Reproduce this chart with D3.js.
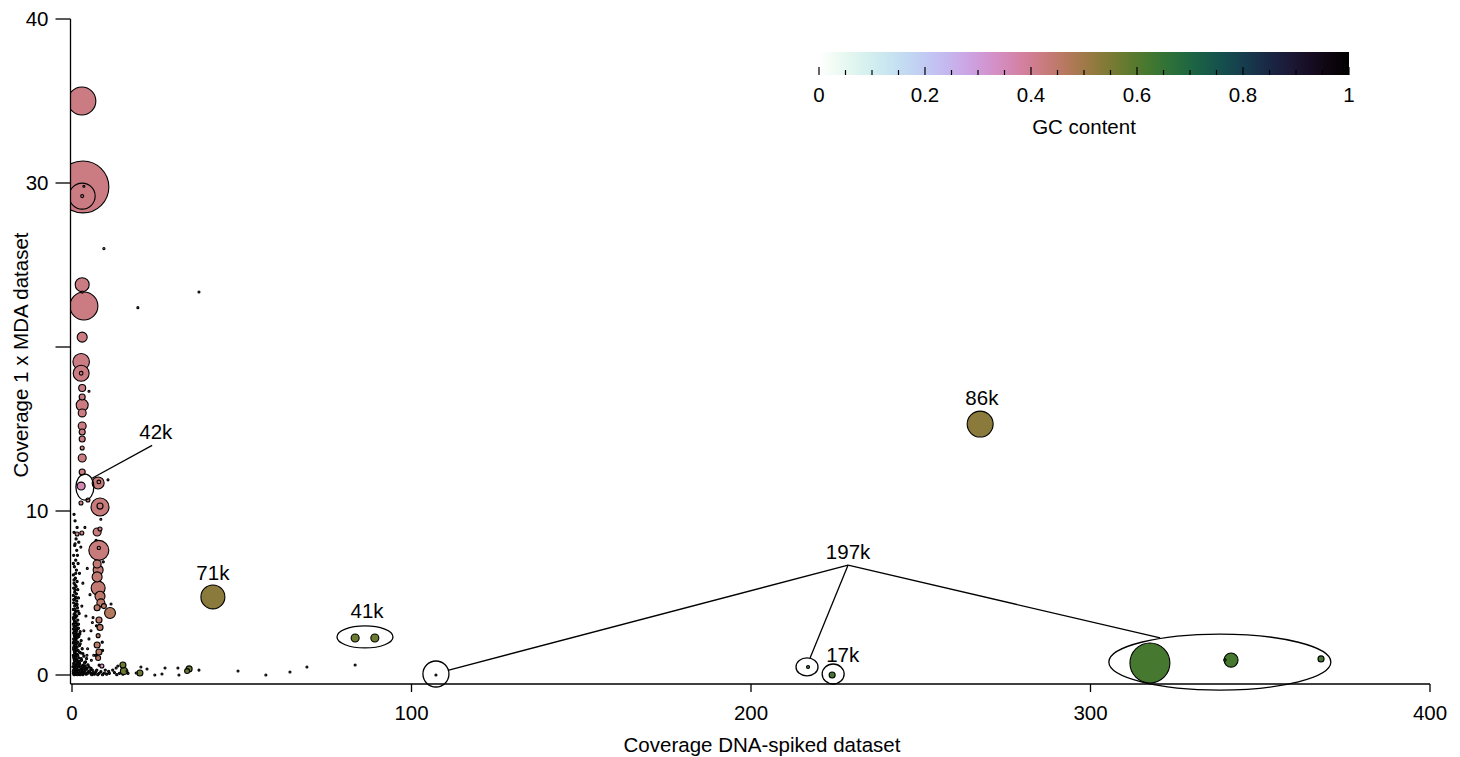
<!DOCTYPE html>
<html><head><meta charset="utf-8">
<script src="https://cdn.jsdelivr.net/npm/d3@7"></script>
<style>body{margin:0;background:#fff}svg text{font-family:"Liberation Sans",Arial,sans-serif;fill:#000}</style>
</head><body><svg id="c" width="1460" height="757"></svg>
<script>
// contigs: [coverage DNA-spiked, coverage MDA, GC content, length (kb)]
const contigs = [
 [2.9,35.0,.42,86],[3.2,29.76,.42,296],[3.0,29.2,.42,74],[3.0,29.2,.42,1],[3.5,29.8,.42,0.3],
 [9.4,26.0,.42,0.5],[19.4,22.4,.42,0.2],[37.4,23.35,.42,0.2],
 [3.0,23.8,.42,21.5],[3.0,23.35,.42,0.5],[3.5,22.5,.42,86],[3.0,20.6,.42,11],
 [2.7,19.1,.42,30],[2.7,18.4,.42,28],[2.7,18.4,.42,1.5],[3.0,17.5,.42,5.4],[5.0,17.3,.42,0.3],
 [3.0,16.95,.42,4],[3.0,16.46,.42,15.8],[3.0,15.98,.42,7],[3.0,15.18,.42,7],[3.0,14.82,.42,4],
 [3.0,14.39,.42,4],[3.0,13.84,.42,1.75],[3.0,13.23,.42,7],[3.0,12.38,.42,4],[2.7,11.52,.36,7],
 [7.7,11.71,.43,15.8],[7.9,11.77,.43,1.5],[10.6,11.9,.42,0.3],[2.65,10.49,.42,1.75],[4.7,10.67,.42,1.75],
 [8.25,10.24,.43,35.5],[8.25,10.3,.43,4],[8.5,9.5,.42,0.3],[7.4,8.72,.43,7],[8.25,8.9,.43,1.75],
 [1.5,8.6,.42,1.75],[2.9,8.66,.42,1.75],[7.9,7.6,.43,44],[7.9,7.75,.43,1.2],[7.4,6.77,.44,7],
 [7.7,6.4,.44,11],[7.4,5.98,.44,11],[7.7,5.3,.44,21.5],[8.25,4.8,.45,11],[8.5,4.4,.45,7],
 [7.4,4.1,.45,4],[11.2,3.78,.47,13],[9.4,4.2,.46,2.7],[7.95,3.35,.45,4],[8.25,2.9,.46,4],
 [7.7,2.4,.46,1.75],[7.4,1.83,.46,4],[7.95,1.4,.46,4],[7.7,1.04,.46,2.7],[8.8,0.55,.35,1.75],
 // green low-coverage contigs
 [15.0,0.61,.57,4],[15.3,0.24,.57,5.4],[20.0,0.12,.57,4],[33.9,0.24,.57,2.7],[34.5,0.37,.57,4],
 [83.4,2.26,.57,7],[89.2,2.26,.57,7],[41.5,4.76,.53,63],[267.5,15.3,.53,74],
 [317.5,0.73,.62,175],[341.4,0.91,.62,21.5],[339.6,0.91,.62,0.6],[367.9,0.98,.62,4],
 [216.8,0.49,.62,1],[223.9,0.0,.62,4],[107.2,0.0,.5,0.3],
 // scattered small contigs
 [11.5,4.33,.4,0.3],[13.0,0.43,.4,0.3],[13.5,0.55,.4,0.3],[16.2,0.24,.4,0.3],[18.9,0.12,.4,0.3],
 [20.3,0.49,.4,0.3],[22.1,0.37,.4,0.3],[24.4,0.0,.4,0.3],[26.5,0.06,.4,0.3],[27.4,0.43,.4,0.3],
 [31.2,0.43,.4,0.3],[31.5,0.0,.4,0.3],[37.4,0.3,.4,0.3],[48.9,0.24,.4,0.3],[57.1,0.0,.4,0.3],
 [64.2,0.18,.4,0.3],[69.2,0.49,.4,0.3],[83.4,0.61,.4,0.3],
 [3.8,9.0,.4,0.3],[2.6,7.8,.4,0.3],[4.5,6.5,.4,0.3],[3.2,5.6,.4,0.3],[5.3,4.9,.4,0.3],[2.9,4.2,.4,0.3],
 [4.1,3.6,.4,0.3],[6.0,3.2,.4,0.3],[3.5,2.7,.4,0.3],[5.0,2.2,.4,0.3],[4.6,1.6,.4,0.3],[6.4,1.2,.4,0.3],
 [5.7,0.9,.4,0.3],[6.2,3.5,.4,0.3],[5.6,2.7,.4,0.3],[4.4,1.2,.4,0.3]
];
// dense cluster of tiny contigs near the origin [x, y]
const tiny = [
 [0.9,9.4],[1.5,9.0],[0.6,8.7],[1.2,8.3],[2.0,8.1],[0.8,7.9],[1.4,7.6],[0.5,7.3],[1.1,7.0],[1.8,6.8],
 [0.7,6.6],[1.3,6.4],[2.2,6.2],[0.4,6.1],[1.0,5.9],[0.6,5.8],[1.5,5.7],[0.9,5.5],[1.2,5.4],[0.5,5.3],
 [1.7,5.2],[0.8,5.05],[1.3,4.95],[0.4,4.85],[1.0,4.75],[1.9,4.7],[0.7,4.6],[1.4,4.5],[0.5,4.4],[1.1,4.3],
 [0.8,4.2],[1.6,4.1],[0.4,4.0],[1.2,3.9],[0.9,3.8],[2.1,3.75],[0.6,3.7],[1.4,3.6],[1.0,3.5],[0.5,3.4],
 [1.7,3.35],[0.8,3.3],[1.2,3.2],[0.4,3.1],[1.5,3.05],[0.9,3.0],[0.6,2.95],[1.1,2.9],[1.9,2.85],[0.4,2.8],
 [1.4,2.75],[0.8,2.7],[2.4,2.65],[1.0,2.6],[0.5,2.55],[1.6,2.5],[1.2,2.45],[0.7,2.4],[2.0,2.35],[0.9,2.3],
 [1.4,2.25],[0.5,2.2],[1.1,2.15],[2.7,2.1],[0.8,2.05],[1.7,2.0],[0.4,1.95],[1.3,1.9],[0.9,1.85],[2.2,1.8],
 [0.6,1.75],[1.5,1.7],[1.0,1.65],[3.0,1.6],[0.5,1.55],[1.8,1.5],[1.2,1.45],[0.7,1.4],[2.5,1.35],[0.9,1.3],
 [1.5,1.25],[0.4,1.2],[3.5,1.15],[1.1,1.1],[2.0,1.05],[0.6,1.0],[1.3,0.95],[2.8,0.9],[0.8,0.85],[4.0,0.8],
 [1.6,0.75],[0.5,0.7],[2.3,0.65],[3.3,0.6],[1.0,0.55],[5.0,0.5],[1.9,0.5],[0.7,0.45],[2.7,0.4],[4.4,0.4],
 [1.4,0.35],[3.8,0.3],[0.5,0.3],[6.0,0.3],[2.1,0.25],[1.1,0.2],[3.0,0.2],[4.8,0.2],[7.0,0.2],[0.8,0.15],
 [1.7,0.15],[2.5,0.1],[3.5,0.1],[5.5,0.1],[8.0,0.1],[9.5,0.12],[11.0,0.1],[12.5,0.15],[14.0,0.1],[1.2,0.05],
 [2.0,0.05],[4.2,0.05],[6.5,0.05],[10.2,0.05],[0.6,0.02],[3.2,0.02],[5.8,0.02],[7.6,0.02],[9.0,0.02],[13.2,0.02],
 [15.0,0.05],[16.5,0.1],[1.0,0.4],[2.2,0.75],[0.3,0.5],[1.8,0.3],[2.9,0.35],[0.4,0.1],[1.5,0.55],[3.6,0.45],
 [0.9,0.05],[1.6,0.02],[2.4,0.02],[2.9,0.08],[3.9,0.15],[4.6,0.1],[5.2,0.25],[6.2,0.15],[6.8,0.08],[7.3,0.3],
 [8.5,0.2],[9.8,0.3],[10.8,0.22],[12.0,0.3],[1.3,0.12],[2.2,0.12],[0.4,0.22],[1.9,0.22],[3.4,0.28],[4.1,0.35],
 [5.6,0.4],[0.9,0.32],[2.5,0.48],[3.1,0.55],[4.7,0.62],[1.2,0.68],[0.6,0.6],[2.0,0.85],[3.7,0.75],[1.0,0.9],
 [0.5,1.1],[1.7,1.2],[2.7,1.0],[4.3,1.0],[0.8,1.25],[2.2,1.4],[1.3,1.55],[3.2,1.3],[0.5,1.65],[2.4,1.9],
 [1.1,1.8],[0.7,2.1],[1.6,2.3],[2.3,2.5],[0.6,2.6],[1.3,2.7],[0.9,2.45],[1.9,3.1],[0.7,3.2],[1.1,3.6],
 [0.4,3.5],[1.8,3.9],[0.8,4.0],[0.5,4.6],[1.3,4.7],[0.9,5.2],[0.6,5.6],[1.1,6.2],[0.4,6.8],[1.6,7.3],
 [0.9,8.0],[0.6,9.8],[7.0,5.0],[7.2,3.0],[8.9,2.0],[7.0,1.2],[8.0,0.6],[9.0,1.5],[6.8,6.1],[9.2,6.9],
 [7.1,8.2],[1.4,0.85],[2.6,0.3],[0.7,0.9],[3.9,0.55],[1.8,0.62],[0.5,2.0],[1.2,2.05],[0.8,3.55],[1.5,4.3]
];
// annotation ellipses: [x, y, rx(px), ry(px)]
const rings = [[3.8,11.46,9,13],[86.3,2.32,28,11],[107.2,0.06,13,13],[216.5,0.49,11,9],[224.2,0.06,11,10],[338.1,0.79,111,28]];
// leader lines: [x1, y1, x2, y2]
const leaders = [[5.9,12.0,23.6,14.0],[228.6,6.7,111.0,0.3],[228.6,6.7,217.4,1.04],[228.6,6.7,320.5,2.26]];
// labels: [text, x, y]
const labels = [["42k",24.7,14.8],["71k",41.5,6.2],["41k",86.9,3.9],["86k",268,16.9],["197k",228.6,7.5],["17k",227,1.2]];
const xTicks = [0,100,200,300,400];
const yTicks = [0,10,20,30,40];
const yTickLabels = ["0","10","","30","40"];
const cbTicksMajor = [0,0.2,0.4,0.6,0.8,1];

const FS = 20.5;
const svg = d3.select("#c");
const x = d3.scaleLinear().domain([0,400]).range([72,1430]);
const y = d3.scaleLinear().domain([0,40]).range([675,19]);
const r = d3.scaleSqrt().domain([0,100]).range([0,15.1]);
const color = gc => d3.interpolateCubehelixDefault(1-gc);

svg.append("defs").append("clipPath").attr("id","clip").append("rect")
  .attr("x",71).attr("y",0).attr("width",1380).attr("height",684);

const pts = svg.append("g").attr("clip-path","url(#clip)");
pts.selectAll("circle.t").data(tiny).join("circle").attr("class","t")
  .attr("cx",d=>x(d[0])).attr("cy",d=>y(d[1])).attr("r",1.1)
  .attr("fill","#222").attr("stroke","#000").attr("stroke-width",1.1);
const sorted = contigs.slice().sort((a,b)=>b[3]-a[3]);
pts.selectAll("circle.c").data(sorted).join("circle").attr("class","c")
  .attr("cx",d=>x(d[0])).attr("cy",d=>y(d[1])).attr("r",d=>Math.max(1.0,r(d[3])))
  .attr("fill",d=>color(d[2])).attr("stroke","#000").attr("stroke-width",1.1);

// annotations
svg.append("g").selectAll("ellipse").data(rings).join("ellipse")
  .attr("cx",d=>x(d[0])).attr("cy",d=>y(d[1])).attr("rx",d=>d[2]).attr("ry",d=>d[3])
  .attr("fill","none").attr("stroke","#000").attr("stroke-width",1.3);
svg.append("g").selectAll("line").data(leaders).join("line")
  .attr("x1",d=>x(d[0])).attr("y1",d=>y(d[1])).attr("x2",d=>x(d[2])).attr("y2",d=>y(d[3]))
  .attr("stroke","#000").attr("stroke-width",1.3);
svg.append("g").selectAll("text").data(labels).join("text")
  .attr("x",d=>x(d[1])).attr("y",d=>y(d[2])).attr("text-anchor","middle").attr("dy","0.35em")
  .attr("font-size",FS).text(d=>d[0]);

// axes
const xa = svg.append("g").attr("transform","translate(0,684)");
xa.append("line").attr("x1",70.5).attr("x2",x(400)).attr("stroke","#000").attr("stroke-width",1.3);
xa.selectAll("line.tk").data(xTicks).join("line").attr("class","tk")
  .attr("x1",d=>x(d)).attr("x2",d=>x(d)).attr("y1",0).attr("y2",8).attr("stroke","#000").attr("stroke-width",1.3);
xa.selectAll("text").data(xTicks).join("text").attr("x",d=>x(d)).attr("y",29)
  .attr("text-anchor","middle").attr("dy","0.35em").attr("font-size",FS).text(d=>d);
svg.append("text").attr("x",762).attr("y",745).attr("text-anchor","middle").attr("dy","0.35em")
  .attr("font-size",FS).text("Coverage DNA-spiked dataset");

const ya = svg.append("g").attr("transform","translate(70.5,0)");
ya.append("line").attr("y1",y(40)).attr("y2",684).attr("stroke","#000").attr("stroke-width",1.3);
ya.selectAll("line.tk").data(yTicks).join("line").attr("class","tk")
  .attr("x1",-15).attr("x2",0).attr("y1",d=>y(d)).attr("y2",d=>y(d)).attr("stroke","#000").attr("stroke-width",1.3);
ya.selectAll("text").data(yTicks).join("text").attr("x",-22).attr("y",d=>y(d))
  .attr("text-anchor","end").attr("dy","0.35em").attr("font-size",FS).text((d,i)=>yTickLabels[i]);
svg.append("text").attr("transform","translate(21,355) rotate(-90)").attr("text-anchor","middle").attr("dy","0.35em")
  .attr("font-size",FS).text("Coverage 1 x MDA dataset");

// colour bar
const cb = d3.scaleLinear().domain([0,1]).range([819,1349]);
const grad = svg.select("defs").append("linearGradient").attr("id","g");
d3.range(0,1.0001,0.02).forEach(t=>grad.append("stop").attr("offset",t).attr("stop-color",color(t)));
svg.append("rect").attr("x",cb(0)).attr("y",52).attr("width",cb(1)-cb(0)).attr("height",23).attr("fill","url(#g)");
const minor = d3.range(0,1.0001,0.05);
svg.append("g").selectAll("line").data(minor).join("line")
  .attr("x1",d=>cb(d)).attr("x2",d=>cb(d)).attr("y1",d=>cbTicksMajor.some(m=>Math.abs(m-d)<1e-6)?67:70).attr("y2",75)
  .attr("stroke","#000").attr("stroke-width",1.2);
svg.append("g").selectAll("text").data(cbTicksMajor).join("text").attr("x",d=>cb(d)).attr("y",95)
  .attr("text-anchor","middle").attr("dy","0.35em").attr("font-size",FS).text(d=>d);
svg.append("text").attr("x",1084).attr("y",127).attr("text-anchor","middle").attr("dy","0.35em")
  .attr("font-size",FS).text("GC content");
</script></body></html>
